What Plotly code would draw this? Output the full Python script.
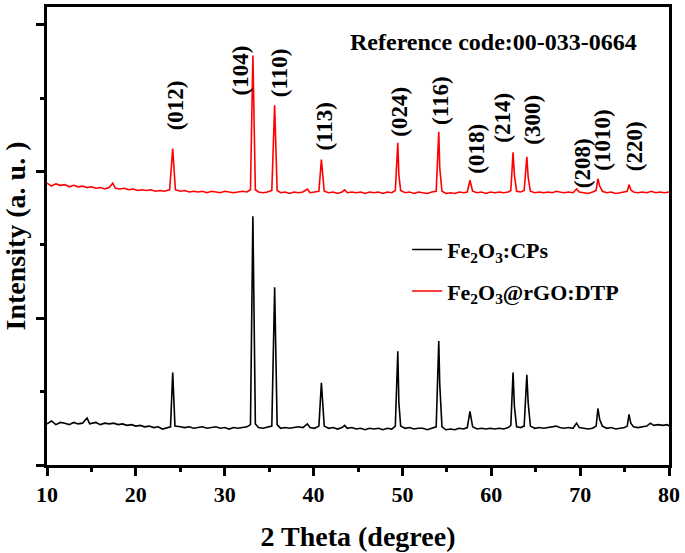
import plotly.graph_objects as go

# ---------------- data ----------------
two_theta_cps = [10, 10.5, 11, 11.5, 12, 12.5, 13, 13.5, 14, 14.5, 14.8, 15.5, 16, 16.5, 17, 17.5, 18, 18.5,
                 19, 19.5, 20, 20.5, 21, 21.5, 22, 22.5, 23, 23.5, 23.9, 24.15, 24.4, 25, 25.5, 26, 26.5, 27,
                 27.5, 28, 28.5, 29, 29.5, 30, 30.5, 31, 31.5, 32, 32.5, 32.9, 33.17, 33.45, 33.8, 34.3, 34.8,
                 35.3, 35.62, 35.9, 36.3, 36.8, 37.3, 37.8, 38.3, 38.8, 39.3, 39.6, 40.1, 40.6, 40.88, 41.2,
                 41.7, 42.2, 42.7, 43.2, 43.5, 43.8, 44.3, 44.8, 45.3, 45.8, 46.3, 46.8, 47.3, 47.8, 48.3,
                 48.8, 49.2, 49.48, 49.6, 49.8, 50.3, 50.8, 51.3, 51.8, 52.3, 52.8, 53.3, 53.8, 54.09, 54.2,
                 54.45, 54.9, 55.4, 55.9, 56.4, 56.9, 57.3, 57.6, 57.9, 58.4, 58.9, 59.4, 59.9, 60.4, 60.9,
                 61.4, 61.9, 62.2, 62.45, 62.6, 62.85, 63.3, 63.7, 64.0, 64.15, 64.4, 64.9, 65.4, 65.9, 66.4,
                 66.9, 67.3, 67.7, 68.2, 68.7, 69.2, 69.6, 69.9, 70.4, 70.9, 71.4, 71.8, 72.0, 72.2, 72.5,
                 73.0, 73.5, 74.0, 74.5, 75.0, 75.3, 75.5, 75.7, 76.0, 76.5, 77.0, 77.5, 77.9, 78.3, 78.8,
                 79.3, 79.8, 80]
intensity_cps = [0.56, 0.60, 0.55, 0.58, 0.57, 0.55, 0.58, 0.56, 0.57, 0.64, 0.56, 0.58, 0.55, 0.57, 0.56, 0.57,
                 0.55, 0.56, 0.54, 0.55, 0.53, 0.54, 0.52, 0.53, 0.51, 0.52, 0.49, 0.51, 0.52, 1.26, 0.53,
                 0.52, 0.51, 0.52, 0.50, 0.51, 0.52, 0.50, 0.51, 0.52, 0.50, 0.51, 0.49, 0.51, 0.50, 0.51,
                 0.52, 0.55, 3.39, 0.56, 0.51, 0.50, 0.51, 0.53, 2.42, 0.55, 0.50, 0.51, 0.50, 0.51, 0.52,
                 0.51, 0.56, 0.51, 0.50, 0.53, 1.12, 0.53, 0.50, 0.51, 0.49, 0.51, 0.54, 0.50, 0.51, 0.49,
                 0.50, 0.48, 0.50, 0.49, 0.50, 0.48, 0.50, 0.49, 0.53, 1.55, 0.85, 0.53, 0.50, 0.51, 0.49,
                 0.50, 0.50, 0.48, 0.50, 0.52, 1.69, 1.10, 0.52, 0.48, 0.49, 0.48, 0.50, 0.49, 0.51, 0.73,
                 0.52, 0.49, 0.50, 0.49, 0.50, 0.49, 0.50, 0.49, 0.51, 0.54, 1.26, 0.80, 0.52, 0.51, 0.53,
                 1.23, 0.85, 0.53, 0.50, 0.51, 0.50, 0.51, 0.52, 0.53, 0.51, 0.50, 0.51, 0.50, 0.57, 0.51,
                 0.50, 0.49, 0.50, 0.53, 0.77, 0.62, 0.53, 0.50, 0.51, 0.49, 0.50, 0.51, 0.53, 0.69, 0.57,
                 0.52, 0.51, 0.52, 0.53, 0.57, 0.54, 0.55, 0.54, 0.55, 0.53]

two_theta_dtp = [10, 10.5, 11, 11.5, 12, 12.5, 13, 13.5, 14, 14.5, 15, 15.5, 16, 16.5, 17, 17.4, 17.7, 18.2,
                 18.7, 19.2, 19.7, 20.2, 20.7, 21.2, 21.7, 22.2, 22.7, 23.2, 23.8, 24.15, 24.45, 25, 25.5,
                 26, 26.5, 27, 27.5, 28, 28.5, 29, 29.5, 30, 30.5, 31, 31.5, 32, 32.5, 32.9, 33.17, 33.45,
                 33.8, 34.3, 34.8, 35.3, 35.62, 35.9, 36.3, 36.8, 37.3, 37.8, 38.3, 38.8, 39.3, 39.6, 40.1,
                 40.6, 40.88, 41.2, 41.7, 42.2, 42.7, 43.2, 43.5, 43.8, 44.3, 44.8, 45.3, 45.8, 46.3, 46.8,
                 47.3, 47.8, 48.3, 48.8, 49.2, 49.48, 49.6, 49.8, 50.3, 50.8, 51.3, 51.8, 52.3, 52.8, 53.3,
                 53.8, 54.09, 54.2, 54.45, 54.9, 55.4, 55.9, 56.4, 56.9, 57.3, 57.6, 57.9, 58.4, 58.9, 59.4,
                 59.9, 60.4, 60.9, 61.4, 61.9, 62.2, 62.45, 62.6, 62.85, 63.3, 63.7, 64.0, 64.15, 64.4,
                 64.9, 65.4, 65.9, 66.4, 66.9, 67.3, 67.7, 68.2, 68.7, 69.2, 69.6, 69.9, 70.4, 70.9, 71.4,
                 71.8, 72.0, 72.2, 72.5, 73.0, 73.5, 74.0, 74.5, 75.0, 75.3, 75.5, 75.7, 76.0, 76.5, 77.0,
                 77.5, 78.0, 78.5, 79.0, 79.5, 80]
intensity_dtp = [3.84, 3.80, 3.83, 3.81, 3.82, 3.79, 3.81, 3.79, 3.80, 3.78, 3.79, 3.77, 3.78, 3.76, 3.78, 3.84,
                 3.77, 3.76, 3.77, 3.75, 3.76, 3.74, 3.75, 3.74, 3.75, 3.73, 3.74, 3.73, 3.75, 4.31, 3.75,
                 3.73, 3.74, 3.72, 3.73, 3.72, 3.73, 3.71, 3.73, 3.72, 3.71, 3.73, 3.72, 3.71, 3.72, 3.73,
                 3.72, 3.75, 5.58, 3.75, 3.72, 3.71, 3.72, 3.74, 4.90, 3.74, 3.71, 3.72, 3.70, 3.72, 3.71,
                 3.72, 3.76, 3.71, 3.72, 3.73, 4.16, 3.73, 3.71, 3.72, 3.70, 3.72, 3.75, 3.71, 3.72, 3.71,
                 3.72, 3.70, 3.72, 3.71, 3.72, 3.70, 3.72, 3.71, 3.74, 4.39, 3.95, 3.74, 3.71, 3.72, 3.70,
                 3.72, 3.71, 3.70, 3.72, 3.73, 4.54, 4.05, 3.73, 3.70, 3.71, 3.70, 3.72, 3.71, 3.72, 3.88,
                 3.73, 3.71, 3.72, 3.70, 3.72, 3.71, 3.72, 3.71, 3.72, 3.74, 4.26, 3.95, 3.73, 3.72, 3.74,
                 4.20, 3.92, 3.73, 3.71, 3.72, 3.71, 3.72, 3.71, 3.73, 3.72, 3.71, 3.72, 3.71, 3.76, 3.72,
                 3.71, 3.70, 3.72, 3.74, 3.90, 3.80, 3.73, 3.71, 3.72, 3.70, 3.71, 3.72, 3.73, 3.82, 3.75,
                 3.72, 3.71, 3.72, 3.71, 3.73, 3.71, 3.72, 3.71, 3.72]

series_names = ["Fe<sub>2</sub>O<sub>3</sub>:CPs", "Fe<sub>2</sub>O<sub>3</sub>@rGO:DTP"]
peak_labels = ["(012)", "(104)", "(110)", "(113)", "(024)", "(116)", "(018)", "(214)", "(300)",
               "(208)", "(1010)", "(220)"]
x_tick_values = [10, 20, 30, 40, 50, 60, 70, 80]
reference_text = "Reference code:00-033-0664"

# ---------------- layout helpers (label placement) ----------------
label_x = [24.4, 31.75, 36.2, 41.25, 49.7, 54.2, 58.4, 61.3, 64.55, 70.3, 72.55, 76.15]
label_y = [4.90, 5.38, 5.35, 4.62, 4.81, 4.97, 4.31, 4.73, 4.70, 4.11, 4.43, 4.34]

FONT = "Liberation Serif, Times New Roman, serif"

fig = go.Figure()
fig.add_trace(go.Scatter(x=two_theta_cps, y=intensity_cps, mode="lines", name=series_names[0],
                         line=dict(color="#000000", width=1.6), legendgroup="a"))
fig.add_trace(go.Scatter(x=two_theta_dtp, y=intensity_dtp, mode="lines", name=series_names[1],
                         line=dict(color="#ff0000", width=1.6), legendgroup="b"))

for txt, lx, ly in zip(peak_labels, label_x, label_y):
    fig.add_annotation(x=lx, y=ly, text="<b>%s</b>" % txt, textangle=-90, showarrow=False,
                       xanchor="center", yanchor="middle",
                       font=dict(family=FONT, size=23, color="#000000"))

fig.add_annotation(x=60.3, y=5.77, text="<b>%s</b>" % reference_text, showarrow=False,
                   xanchor="center", yanchor="middle", font=dict(family=FONT, size=24, color="#000000"))

fig.update_layout(
    width=685, height=553,
    margin=dict(l=47, r=16, t=4, b=88),
    paper_bgcolor="white", plot_bgcolor="white",
    font=dict(family=FONT, color="#000000"),
    showlegend=True,
    legend=dict(x=0.579, y=0.516, xanchor="left", yanchor="top", bgcolor="rgba(0,0,0,0)",
                font=dict(family=FONT, size=22, color="#000000", weight="bold"),
                tracegroupgap=10, traceorder="grouped"),
    xaxis=dict(range=[10, 80], tickvals=x_tick_values, ticks="outside", ticklen=8, tickwidth=3,
               tickcolor="#000000", showline=True, linewidth=3, linecolor="#000000", mirror=True,
               showgrid=False, zeroline=False,
               tickfont=dict(family=FONT, size=22, color="#000000", weight="bold"),
               minor=dict(dtick=5, tick0=0, ticks="outside", ticklen=4, tickwidth=3, tickcolor="#000000",
                          showgrid=False),
               title=dict(text="<b>2 Theta (degree)</b>", font=dict(family=FONT, size=28, color="#000000"),
                          standoff=20)),
    yaxis=dict(range=[0, 6.24], tickvals=[0, 2, 4, 6], showticklabels=False, ticks="outside",
               ticklen=8, tickwidth=3, tickcolor="#000000", showline=True, linewidth=3,
               linecolor="#000000", mirror=True, showgrid=False, zeroline=False,
               minor=dict(dtick=1, tick0=0, ticks="outside", ticklen=4, tickwidth=3, tickcolor="#000000",
                          showgrid=False),
               title=dict(text="<b>Intensity (a. u. )</b>", font=dict(family=FONT, size=28, color="#000000"),
                          standoff=14)),
)

fig.write_html("out.html", config={"displayModeBar": False},
               post_script="document.body.style.margin='0px';")
